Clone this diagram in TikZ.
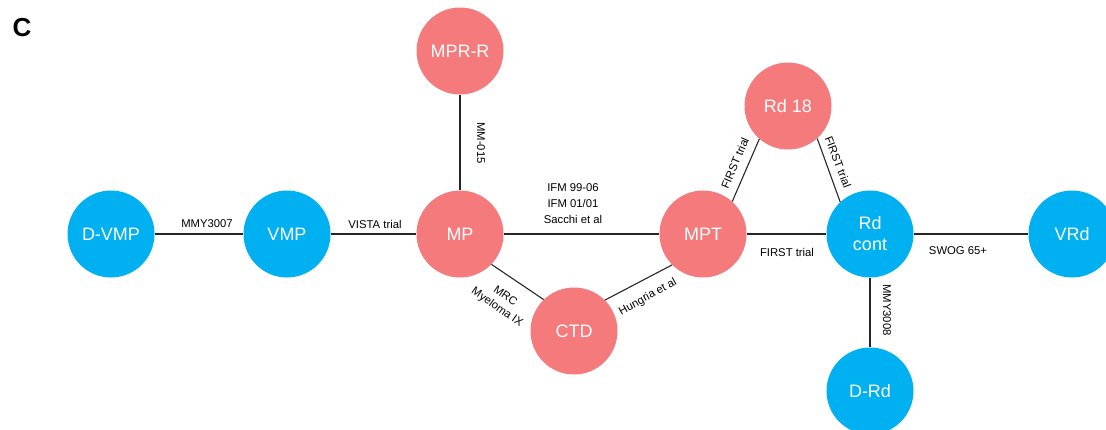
\documentclass[tikz,border=0pt]{standalone}
\usepackage{fontspec}
\setmainfont{Liberation Sans}
\definecolor{nodered}{RGB}{245,122,124}
\definecolor{nodeblue}{RGB}{0,176,240}
\begin{document}
\begin{tikzpicture}[x=1pt,y=-1pt,
  regimen/.style={circle, minimum size=87pt, inner sep=0pt, text=white,
    font=\fontsize{18}{21}\selectfont, align=center},
  redn/.style={regimen, fill=nodered},
  bluen/.style={regimen, fill=nodeblue},
  link/.style={draw=black!85, line width=1.1pt},
  lbl/.style={font=\fontsize{11.3}{16}\selectfont, inner sep=0pt, align=center},
  lbltight/.style={lbl, font=\fontsize{11.3}{14}\selectfont}]
\useasboundingbox (0,0) rectangle (1106,429);

% panel letter
\node[font=\fontsize{26}{30}\selectfont\bfseries] (panel) at (22,28) {C};

% regimens
\node[bluen] (dvmp) at (111,234) {D-VMP};
\node[bluen] (vmp)  at (287,234) {VMP};
\node[redn]  (mp)   at (460,234) {MP};
\node[redn]  (mprr) at (460,51)  {MPR-R};
\node[redn]  (ctd)  at (574,331) {CTD};
\node[redn]  (mpt)  at (703,234) {MPT};
\node[redn]  (rd18) at (788,106) {Rd 18};
\node[bluen] (rdc)  at (870,234) {Rd\\cont};
\node[bluen] (vrd)  at (1072,234) {VRd};
\node[bluen] (drd)  at (870,391) {D-Rd};

% trial connections
\draw[link] (dvmp) -- (vmp);
\draw[link] (vmp) -- (mp);
\draw[link] (mprr) -- (mp);
\draw[link] (mp) -- (mpt);
\draw[link] (mp.-44) -- (ctd.134);
\draw[link] (ctd.45) -- (mpt.-135);
\draw[link] (mpt.48) -- (rd18.-131);
\draw[link] (rd18.-48) -- (rdc.133);
\draw[link] (mpt) -- (rdc);
\draw[link] (rdc) -- (vrd);
\draw[link] (rdc) -- (drd);

% trial names
\node[lbl] (l1) at (207,224) {MMY3007};
\node[lbl] (l2) at (375,224) {VISTA trial};
\node[lbl, rotate=-90] (l3) at (481,143) {MM-015};
\node[lbl] (l4) at (573,204) {IFM 99-06\\IFM 01/01\\Sacchi et al};
\node[lbltight, rotate=-35] (l5) at (501,302) {MRC\\Myeloma IX};
\node[lbl, rotate=29] (l6) at (648,297) {Hungria et al};
\node[lbl, rotate=67] (l7) at (735,163) {FIRST trial};
\node[lbl, rotate=-69] (l8) at (838,162) {FIRST trial};
\node[lbl] (l9) at (787,252) {FIRST trial};
\node[lbl] (l10) at (958,251) {SWOG 65+};
\node[lbl, rotate=-90] (l11) at (887,310) {MMY3008};
\end{tikzpicture}
\end{document}
